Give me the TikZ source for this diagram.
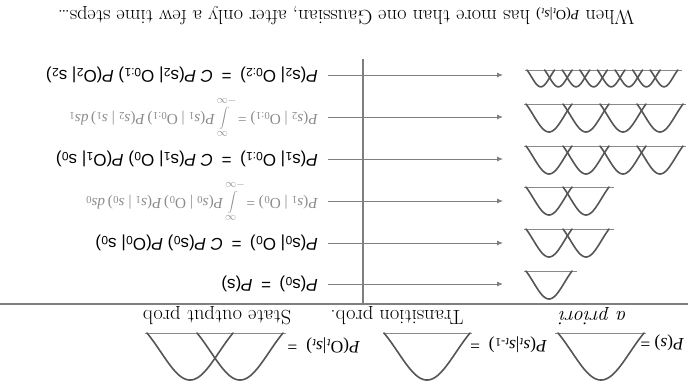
\documentclass[tikz,border=0pt]{standalone}
\usepackage{fontspec}
\newfontfamily\timesf{Liberation Serif}
\setsansfont{Liberation Sans}
\usetikzlibrary{arrows.meta}
\definecolor{linegray}{HTML}{7F7F7F}
\definecolor{curvegray}{HTML}{555555}
\definecolor{bargray}{HTML}{8A8A8A}
\definecolor{textgray}{HTML}{8C8C8C}
\tikzset{
  pics/gauss/.style={code={
    \draw[curvegray, line width=1.6pt, line cap=round]
      plot[domain=-1:1, samples=41, smooth] ({23*\x},{28*(exp(-1.1*(\x)^2)-0.3329)/0.6671});
  }},
  bar/.style={bargray, line width=1pt},
  divider/.style={linegray, line width=1.2pt},
  arr/.style={linegray, line width=0.9pt, -{Latex[length=6pt,width=5pt]}},
  sansrow/.style={rotate=180, anchor=west, inner xsep=10pt, font=\sffamily\fontsize{17}{20}\selectfont},
  introw/.style={rotate=180, anchor=west, inner xsep=10pt, text=textgray, font=\timesf\fontsize{15.3}{18}\selectfont},
  legendf/.style={rotate=180, anchor=west, inner sep=1pt, font=\timesf\fontsize{17.5}{20}\selectfont},
  legendl/.style={rotate=180, inner sep=0.5pt, font=\fontsize{20.5}{23}\selectfont},
}
\newcommand{\sbs}[1]{\textsubscript{#1}}
\begin{document}
\begin{tikzpicture}[x=1pt, y=-1pt]
\useasboundingbox (0,0) rectangle (688,386);

% title
\node[rotate=180, font=\fontsize{20.4}{24}\selectfont] (title) at (346,16)
  {When {\timesf\fontsize{14}{16}\selectfont\textit{P}(O\sbs{\textit{t}}|\textit{s}\sbs{\textit{t}})} has more than one Gaussian, after only a few time steps\ldots};

% dividers
\coordinate (hl) at (0,304);
\coordinate (hr) at (688,304);
\coordinate (vt) at (363,59);
\coordinate (vb) at (363,304);
\draw[divider] (hl) -- (hr);
\draw[linegray, line width=1.8pt] (vt) -- (vb);

% rows of formulas
\node[sansrow] (f1) at (328,75)
  {\textit{P}(s\sbs{2}| O\sbs{0:2})\enspace=\enspace\textit{C P}(s\sbs{2}| O\sbs{0:1}) \textit{P}(O\sbs{2}| s\sbs{2})};
\node[introw] (f2) at (328,117)
  {\textit{P}(\textit{s}\sbs{2} | O\sbs{0:1}) = $\displaystyle\int\limits_{-\infty}^{\infty}$\textit{P}(\textit{s}\sbs{1} | O\sbs{0:1})\,\textit{P}(\textit{s}\sbs{2} | \textit{s}\sbs{1})\,\textit{ds}\sbs{1}};
\node[sansrow] (f3) at (328,159)
  {\textit{P}(s\sbs{1}| O\sbs{0:1})\enspace=\enspace\textit{C P}(s\sbs{1}| O\sbs{0}) \textit{P}(O\sbs{1}| s\sbs{0})};
\node[introw] (f4) at (328,201)
  {\textit{P}(\textit{s}\sbs{1} | O\sbs{0}) = $\displaystyle\int\limits_{-\infty}^{\infty}$\textit{P}(\textit{s}\sbs{0} | O\sbs{0})\,\textit{P}(\textit{s}\sbs{1} | \textit{s}\sbs{0})\,\textit{ds}\sbs{0}};
\node[sansrow] (f5) at (328,243)
  {\textit{P}(s\sbs{0}| O\sbs{0})\enspace=\enspace\textit{C P}(s\sbs{0}) \textit{P}(O\sbs{0}| s\sbs{0})};
\node[sansrow] (f6) at (328,284)
  {\textit{P}(s\sbs{0})\enspace=\enspace\textit{P}(s)};

% arrow targets
\coordinate (g1) at (503,75);
\coordinate (g2) at (503,117);
\coordinate (g3) at (503,159);
\coordinate (g4) at (503,201);
\coordinate (g5) at (503,243);
\coordinate (g6) at (503,284);
\foreach \i in {1,...,6} \draw[arr] (f\i.west) -- (g\i);

% gaussian groups
\draw[bar] (525,70) -- (682,70);
\foreach \k in {0,...,7} \pic[xscale=0.6, yscale=0.6] at ({540.8+17.6*\k},70) {gauss};
\foreach \yy in {104,146} {
  \draw[bar] (524,\yy) -- (686,\yy);
  \foreach \k in {0,...,3} \pic at ({549+37*\k},\yy) {gauss};
}
\foreach \yy in {187,229} {
  \draw[bar] (524,\yy) -- (614,\yy);
  \foreach \k in {0,1} \pic at ({549+37*\k},\yy) {gauss};
}
\draw[bar] (524,271) -- (577,271);
\pic at (549,271) {gauss};

% legend
\draw[bar] (555,333) -- (646,333);
\pic[xscale=1.87, yscale=1.68] at (601,333) {gauss};
\draw[bar] (383,333) -- (472,333);
\pic[xscale=1.87, yscale=1.68] at (427,333) {gauss};
\draw[bar] (145,333) -- (286,333);
\pic[xscale=1.87, yscale=1.68] at (190,333) {gauss};
\pic[xscale=1.87, yscale=1.68] at (240,333) {gauss};

\node[legendf] (lf1) at (685,343) {\textit{P}(\textit{s}) =};
\node[legendf] (lf2) at (548,345) {\textit{P}(\textit{s}\sbs{\textit{t}}|\textit{s}\sbs{\textit{t}-1})\enspace=};
\node[legendf] (lf3) at (361,346) {\textit{P}(O\sbs{\textit{t}}|\textit{s}\sbs{\textit{t}})\enspace=};

\node[legendl] (l1) at (593,316) {\textit{a priori}};
\node[legendl] (l2) at (397,316) {Transition prob.};
\node[legendl] (l3) at (217,316) {State output prob};
\end{tikzpicture}
\end{document}
